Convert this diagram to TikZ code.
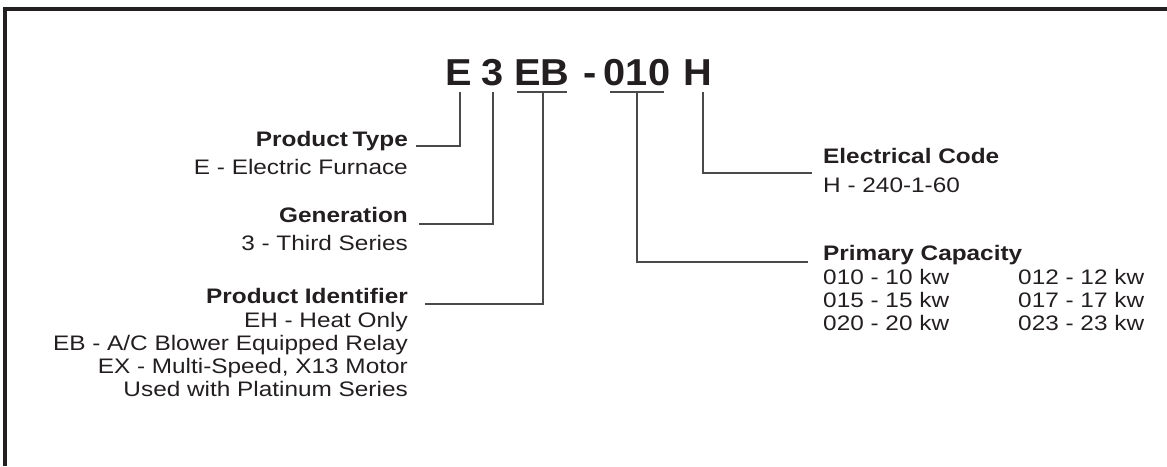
\documentclass[tikz,border=0pt]{standalone}
\usepackage{fontspec}
\setmainfont{Liberation Sans}[FakeStretch=1.16]
\newfontfamily\titlefont{Liberation Sans}[FakeStretch=1.06]
\definecolor{ink}{HTML}{231F20}
\definecolor{wire}{HTML}{4A4A4A}
\tikzset{
  titlepart/.style={inner sep=0pt, anchor=base, text=ink, font=\titlefont\fontsize{37.5}{40}\selectfont\bfseries},
  head/.style={inner sep=0pt, text=ink, font=\fontsize{21}{25}\selectfont\bfseries},
  body/.style={inner sep=0pt, text=ink, font=\fontsize{21}{25}\selectfont},
  wireline/.style={draw=wire, line width=1.3pt},
  frameline/.style={draw=ink, line width=4pt}
}
\begin{document}
\begin{tikzpicture}[x=1pt, y=-1pt]
\useasboundingbox (0,0) rectangle (1167,466);
% frame
\coordinate (fa) at (5,466);
\coordinate (fb) at (5,9);
\coordinate (fc) at (1167,9);
\draw[frameline] (fa) -- (fb) -- (fc);
% title
\node[titlepart] (tE) at (459,85) {E};
\node[titlepart] (t3) at (493,85) {3};
\node[titlepart] (tEB) at (542,85) {EB};
\node[titlepart] (tdash) at (590,85) {-};
\node[titlepart] (t010) at (637,85) {010};
\node[titlepart] (tH) at (698,85) {H};
% left labels
\node[head, anchor=base east] (ptype) at (408,146) {Product\kern-2pt\ Type};
\node[body, anchor=base east] (ptypeA) at (408,174) {E - Electric Furnace};
\node[head, anchor=base east] (gen) at (408,222) {Generation};
\node[body, anchor=base east] (genA) at (408,250) {3 - Third Series};
\node[head, anchor=base east] (pid) at (408,303) {Product Identifier};
\node[body, anchor=base east] (pidA) at (408,327) {EH - Heat Only};
\node[body, anchor=base east] (pidB) at (408,350) {EB - A/C Blower Equipped Relay};
\node[body, anchor=base east] (pidC) at (408,373) {EX - Multi-Speed, X13 Motor};
\node[body, anchor=base east] (pidD) at (408,396) {Used with Platinum Series};
% right labels
\node[head, anchor=base west] (elec) at (823,163) {Electrical Code};
\node[body, anchor=base west] (elecA) at (823,192) {H - 240-1-60};
\node[head, anchor=base west] (cap) at (823,260) {Primary Capacity};
\node[body, anchor=base west] (capA) at (823,284) {010 - 10 kw};
\node[body, anchor=base west] (capB) at (1018,284) {012 - 12 kw};
\node[body, anchor=base west] (capC) at (823,307) {015 - 15 kw};
\node[body, anchor=base west] (capD) at (1018,307) {017 - 17 kw};
\node[body, anchor=base west] (capE) at (823,330) {020 - 20 kw};
\node[body, anchor=base west] (capF) at (1018,330) {023 - 23 kw};
% underlines
\draw[wireline] ([xshift=3pt,yshift=-7pt]tEB.base west) -- ([xshift=-3pt,yshift=-7pt]tEB.base east);
\draw[wireline] ([xshift=6pt,yshift=-7pt]t010.base west) -- ([xshift=-6pt,yshift=-7pt]t010.base east);
% connectors
\draw[wireline] ([xshift=8pt,yshift=0pt]ptype.base east) -| ([xshift=1pt,yshift=-7pt]tE.base);
\draw[wireline] ([xshift=11pt,yshift=-2pt]gen.base east) -| ([yshift=-7pt]t3.base);
\draw[wireline] ([xshift=17pt,yshift=-1pt]pid.base east) -| ([xshift=1pt,yshift=-7pt]tEB.base);
\draw[wireline] ([xshift=5pt,yshift=-7pt]tH.base) |- ([xshift=-11pt,yshift=-10pt]elec.base west);
\draw[wireline] ([yshift=-7pt]t010.base) |- ([xshift=-15pt,yshift=-2pt]cap.base west);
\end{tikzpicture}
\end{document}
